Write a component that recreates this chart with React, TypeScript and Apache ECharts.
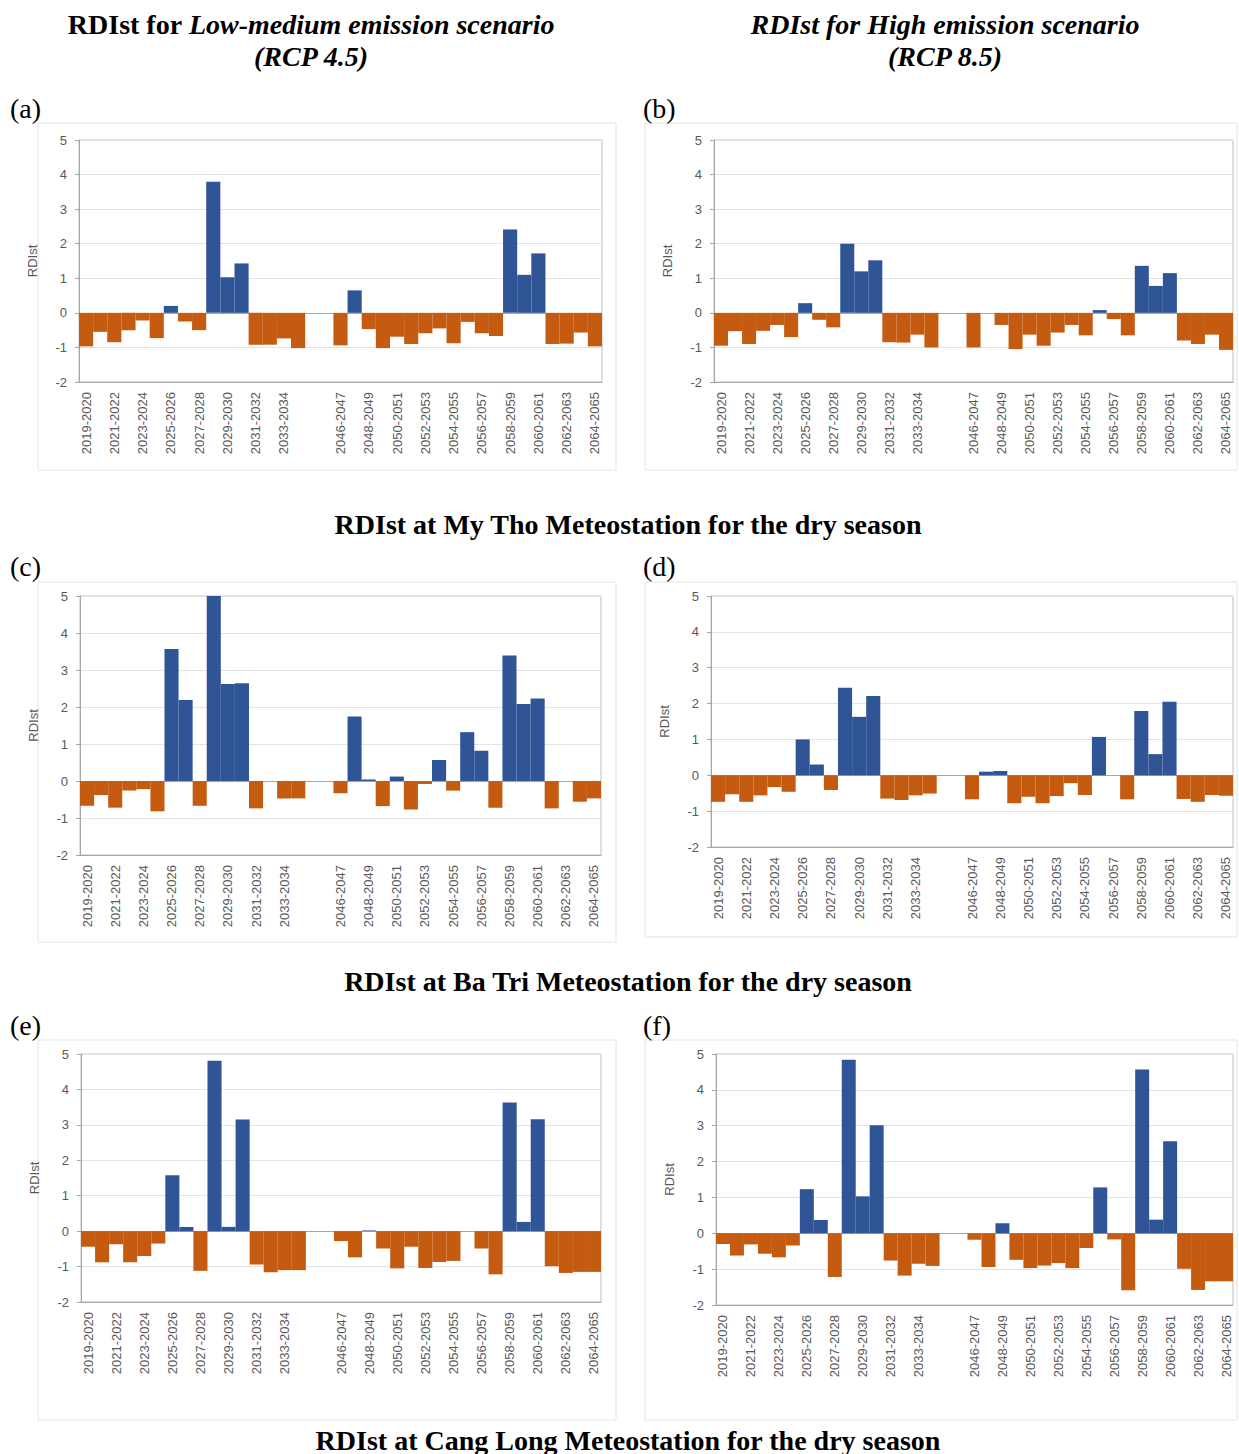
import React, { useEffect, useRef } from "react";
import * as echarts from "echarts";

const categories = [
  "2019-2020", "2020-2021", "2021-2022", "2022-2023", "2023-2024", "2024-2025",
  "2025-2026", "2026-2027", "2027-2028", "2028-2029", "2029-2030", "2030-2031",
  "2031-2032", "2032-2033", "2033-2034", "2034-2035", " ", "  ",
  "2046-2047", "2047-2048", "2048-2049", "2049-2050", "2050-2051", "2051-2052",
  "2052-2053", "2053-2054", "2054-2055", "2055-2056", "2056-2057", "2057-2058",
  "2058-2059", "2059-2060", "2060-2061", "2061-2062", "2062-2063", "2063-2064",
  "2064-2065",
];

const yTicks = [-2, -1, 0, 1, 2, 3, 4, 5];

// (a) My Tho, RCP 4.5
const myThoRcp45 = [-0.97, -0.55, -0.85, -0.5, -0.22, -0.73, 0.2, -0.25, -0.5, 3.79, 1.03, 1.43, -0.92, -0.92, -0.74, -1.02, null, null,
  -0.94, 0.65, -0.47, -1.02, -0.69, -0.9, -0.59, -0.45, -0.88, -0.26, -0.59, -0.67, 2.41, 1.1, 1.72, -0.9, -0.89, -0.57, -0.97];
// (b) My Tho, RCP 8.5
const myThoRcp85 = [-0.95, -0.53, -0.9, -0.52, -0.35, -0.7, 0.28, -0.2, -0.42, 2.0, 1.2, 1.52, -0.85, -0.86, -0.63, -1.0, null, null,
  -1.0, 0, -0.35, -1.05, -0.63, -0.95, -0.57, -0.35, -0.65, 0.08, -0.18, -0.65, 1.36, 0.78, 1.15, -0.8, -0.9, -0.63, -1.07];
// (c) Ba Tri, RCP 4.5
const baTriRcp45 = [-0.67, -0.38, -0.72, -0.26, -0.22, -0.82, 3.57, 2.19, -0.67, 5.0, 2.62, 2.64, -0.74, 0, -0.47, -0.47, null, null,
  -0.33, 1.74, 0.04, -0.68, 0.12, -0.77, -0.08, 0.57, -0.26, 1.32, 0.82, -0.72, 3.39, 2.08, 2.23, -0.74, 0, -0.56, -0.47];
// (d) Ba Tri, RCP 8.5
const baTriRcp85 = [-0.74, -0.53, -0.74, -0.56, -0.33, -0.46, 1.0, 0.3, -0.41, 2.44, 1.63, 2.21, -0.65, -0.69, -0.56, -0.51, null, null,
  -0.67, 0.1, 0.12, -0.78, -0.6, -0.78, -0.58, -0.22, -0.55, 1.07, 0, -0.67, 1.79, 0.59, 2.05, -0.66, -0.74, -0.55, -0.57];
// (e) Cang Long, RCP 4.5
const cangLongRcp45 = [-0.44, -0.88, -0.37, -0.88, -0.7, -0.35, 1.58, 0.12, -1.12, 4.81, 0.12, 3.15, -0.94, -1.16, -1.1, -1.1, null, null,
  -0.28, -0.74, 0.02, -0.49, -1.05, -0.44, -1.04, -0.87, -0.84, 0, -0.49, -1.22, 3.63, 0.26, 3.16, -0.99, -1.18, -1.15, -1.15];
// (f) Cang Long, RCP 8.5
const cangLongRcp85 = [-0.3, -0.62, -0.31, -0.57, -0.67, -0.34, 1.23, 0.37, -1.22, 4.84, 1.03, 3.01, -0.76, -1.18, -0.85, -0.91, null, null,
  -0.18, -0.94, 0.28, -0.74, -0.97, -0.9, -0.83, -0.97, -0.41, 1.28, -0.17, -1.59, 4.57, 0.38, 2.57, -0.99, -1.58, -1.34, -1.34];

const panelSeries = [myThoRcp45, myThoRcp85, baTriRcp45, baTriRcp85, cangLongRcp45, cangLongRcp85];
const panelLetters = ["(a)", "(b)", "(c)", "(d)", "(e)", "(f)"];
const stationTitles = [
  "RDIst at My Tho Meteostation for the dry season",
  "RDIst at Ba Tri Meteostation for the dry season",
  "RDIst at Cang Long Meteostation for the dry season",
];

// layout (pixels)
const grids = [
  { left: 79, top: 140, width: 523, height: 242 },
  { left: 714, top: 140, width: 519, height: 242 },
  { left: 80, top: 596, width: 521, height: 259 },
  { left: 711, top: 596, width: 522, height: 251 },
  { left: 81, top: 1054, width: 520, height: 248 },
  { left: 716, top: 1054, width: 517, height: 251 },
];
const chartBoxes = [
  { x: 38, y: 123, w: 578, h: 347 },
  { x: 645, y: 123, w: 592, h: 347 },
  { x: 38, y: 582, w: 578, h: 360 },
  { x: 645, y: 582, w: 592, h: 355 },
  { x: 38, y: 1040, w: 578, h: 380 },
  { x: 645, y: 1040, w: 592, h: 380 },
];
const letterPos = [
  { x: 10, y: 108 }, { x: 643, y: 108 },
  { x: 10, y: 566 }, { x: 643, y: 566 },
  { x: 10, y: 1025 }, { x: 643, y: 1025 },
];
const stationTitleY = [524, 981, 1440];

const BLUE = "#2F5597";
const ORANGE = "#C55A11";
const SERIF = "'Liberation Serif', 'Times New Roman', serif";
const SANS = "'Liberation Sans', Arial, sans-serif";
const TITLE_SIZE = 28;

function App() {
  const ref = useRef<HTMLDivElement>(null);

  useEffect(() => {
    if (!ref.current) return;
    const chart = echarts.init(ref.current, undefined, { renderer: "svg" });

    const graphic: any[] = [];
    chartBoxes.forEach((b) => {
      graphic.push({
        type: "rect",
        shape: { x: b.x, y: b.y, width: b.w, height: b.h },
        style: { fill: "none", stroke: "#E4E4E4", lineWidth: 1 },
        silent: true,
        z: -1,
      });
    });
    graphic.push({
      type: "text",
      x: 311,
      y: 24,
      style: {
        text: "{n|RDIst for }{i|Low-medium emission scenario}",
        align: "center",
        verticalAlign: "middle",
        rich: {
          n: { fontFamily: SERIF, fontSize: TITLE_SIZE, fontWeight: "bold", fill: "#000" },
          i: { fontFamily: SERIF, fontSize: TITLE_SIZE, fontWeight: "bold", fontStyle: "italic", fill: "#000" },
        },
      },
    });
    graphic.push({
      type: "text",
      x: 311,
      y: 56,
      style: {
        text: "(RCP 4.5)",
        align: "center",
        verticalAlign: "middle",
        fontFamily: SERIF,
        fontSize: TITLE_SIZE,
        fontWeight: "bold",
        fontStyle: "italic",
        fill: "#000",
      },
    });
    graphic.push({
      type: "text",
      x: 945,
      y: 24,
      style: {
        text: "RDIst for High emission scenario",
        align: "center",
        verticalAlign: "middle",
        fontFamily: SERIF,
        fontSize: TITLE_SIZE,
        fontWeight: "bold",
        fontStyle: "italic",
        fill: "#000",
      },
    });
    graphic.push({
      type: "text",
      x: 945,
      y: 56,
      style: {
        text: "(RCP 8.5)",
        align: "center",
        verticalAlign: "middle",
        fontFamily: SERIF,
        fontSize: TITLE_SIZE,
        fontWeight: "bold",
        fontStyle: "italic",
        fill: "#000",
      },
    });
    letterPos.forEach((p, i) => {
      graphic.push({
        type: "text",
        x: p.x,
        y: p.y,
        style: {
          text: panelLetters[i],
          align: "left",
          verticalAlign: "middle",
          fontFamily: SERIF,
          fontSize: TITLE_SIZE,
          fill: "#000",
        },
      });
    });
    stationTitles.forEach((t, i) => {
      graphic.push({
        type: "text",
        x: 628,
        y: stationTitleY[i],
        style: {
          text: t,
          align: "center",
          verticalAlign: "middle",
          fontFamily: SERIF,
          fontSize: TITLE_SIZE,
          fontWeight: "bold",
          fill: "#000",
        },
      });
    });

    const option: any = {
      animation: false,
      backgroundColor: "#fff",
      grid: grids.map((g) => ({
        ...g,
        show: true,
        borderColor: "#BFBFBF",
        borderWidth: 1,
        backgroundColor: "transparent",
      })),
      xAxis: grids.map((_, i) => ({
        type: "category",
        gridIndex: i,
        data: categories,
        position: "bottom",
        axisLine: { onZero: false, lineStyle: { color: "#A6A6A6" } },
        axisTick: { show: false },
        axisLabel: {
          interval: 1,
          rotate: 90,
          margin: 10,
          color: "#595959",
          fontFamily: SANS,
          fontSize: 13,
        },
        splitLine: { show: false },
      })),
      yAxis: grids.map((_, i) => ({
        type: "value",
        gridIndex: i,
        min: yTicks[0],
        max: yTicks[yTicks.length - 1],
        interval: 1,
        name: "RDIst",
        nameLocation: "middle",
        nameGap: 40,
        nameTextStyle: { color: "#595959", fontFamily: SANS, fontSize: 13 },
        axisLine: { show: true, lineStyle: { color: "#A6A6A6" } },
        axisTick: { show: true, length: 4, lineStyle: { color: "#A6A6A6" } },
        axisLabel: { color: "#595959", fontFamily: SANS, fontSize: 13, margin: 12 },
        splitLine: { show: true, lineStyle: { color: "#E3E3E3", width: 1 } },
      })),
      series: panelSeries.map((vals, i) => ({
        type: "bar",
        xAxisIndex: i,
        yAxisIndex: i,
        data: vals,
        barCategoryGap: "0%",
        itemStyle: {
          color: (p: any) => (p.value >= 0 ? BLUE : ORANGE),
        },
        markLine: {
          silent: true,
          symbol: "none",
          label: { show: false },
          lineStyle: { color: "#A6A6A6", width: 1, type: "solid" },
          data: [{ yAxis: 0 }],
          z: 1,
        },
      })),
      graphic,
    };

    chart.setOption(option);
    return () => chart.dispose();
  }, []);

  return (
    <div
      ref={ref}
      style={{ position: "absolute", left: 0, top: 0, width: 1239, height: 1454, background: "#fff" }}
    />
  );
}

export default App;
